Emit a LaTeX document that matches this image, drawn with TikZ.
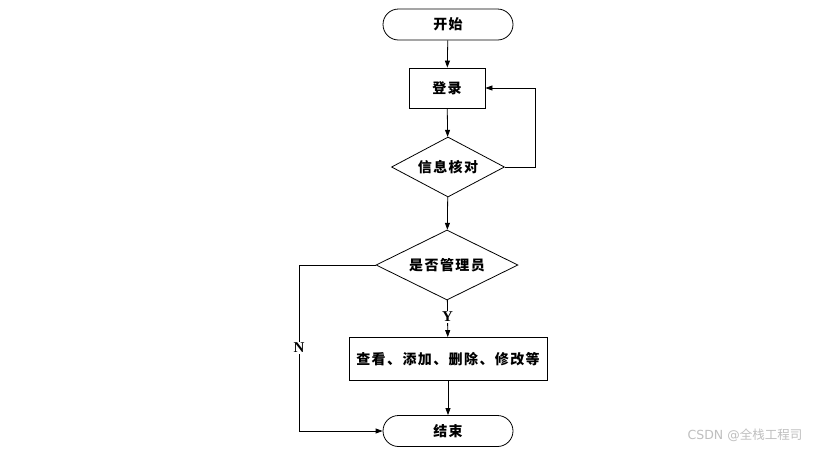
\documentclass[tikz,border=0pt]{standalone}
\usepackage{fontspec}
\setmainfont{Liberation Serif}
\newfontfamily\cjk[LetterSpace=10]{Noto Sans CJK SC}
\newfontfamily\cjkwm{Noto Sans CJK SC}
\usetikzlibrary{shapes.geometric,shapes.misc,arrows.meta}
\begin{document}
\begin{tikzpicture}[x=1pt,y=-1pt,
  base/.style={draw=black,line width=0.8pt,inner sep=0pt,font=\cjk\bfseries\fontsize{14}{16}\selectfont},
  term/.style={base,rounded rectangle,minimum width=130pt,minimum height=31pt},
  proc/.style={base,rectangle},
  txt/.style={font=\cjk\bfseries\fontsize{14}{16}\selectfont},
  conn/.style={line width=0.8pt,-{Triangle[length=7pt,width=5pt]}},
  lab/.style={font=\bfseries\fontsize{15}{17}\selectfont,fill=white,inner sep=1pt}]
\fill[white] (0,0) rectangle (823,451);
\node[term] (start) at (448,24.5) {开始};
\node[proc,minimum width=76pt,minimum height=40pt] (login) at (447,88) {登录};
\node[base,diamond,minimum width=113pt,minimum height=60pt,aspect=1.88] (check) at (448,167) {};
\node[txt] (checkt) at (check) {信息核对};
\node[base,diamond,minimum width=142pt,minimum height=70pt,aspect=2.03] (admin) at (447,265) {};
\node[txt] (admint) at (admin) {是否管理员};
\node[proc,minimum width=198pt,minimum height=43pt] (ops) at (448,359) {查看、添加、删除、修改等};
\node[term] (end) at (448,431) {结束};
\coordinate (fb1) at (535,167);
\coordinate (fb2) at (535,88);
\coordinate (n1) at (299,265);
\coordinate (n2) at (299,431);
\draw[conn] (start) -- (login);
\draw[conn] (login) -- (check);
\draw[conn] (check.east) -- (fb1) -- (fb2) -- (login.east);
\draw[conn] (check) -- (admin);
\draw[conn] (admin) -- node[lab,pos=0.45] (y) {Y} (ops);
\draw[conn] (ops) -- (end);
\draw[conn] (admin.west) -- (n1) -- node[lab,pos=0.5] (n) {N} (n2) -- (end.west);
\node[font=\fontspec{DejaVu Sans}\fontsize{12.5}{14}\selectfont,text=black!25] (wm) at (745,435) {CSDN @{\cjkwm 全栈工程司}};
\end{tikzpicture}
\end{document}
